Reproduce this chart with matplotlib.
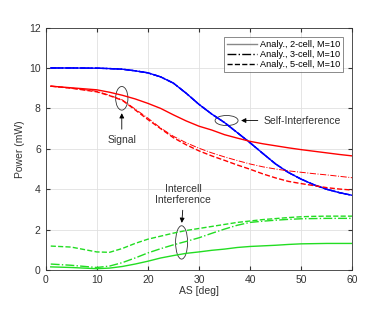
import matplotlib
matplotlib.use('Agg')
import matplotlib.pyplot as plt
from matplotlib.patches import Ellipse
from matplotlib.lines import Line2D
import numpy as np

plt.rcParams['font.family'] = ['Liberation Sans', 'DejaVu Sans']

# angular spread [deg]
AS = [1, 5, 10, 12.5, 15, 17.5, 20, 22.5, 25, 27.5, 30, 32.5, 35, 37.5, 40,
      42.5, 45, 47.5, 50, 52.5, 55, 57.5, 60]

# self-interference (same for all cell counts)
self_int = [10.0, 10.0, 9.99, 9.97, 9.94, 9.86, 9.76, 9.56, 9.25, 8.75, 8.2, 7.72, 7.3, 6.8,
            6.3, 5.77, 5.25, 4.83, 4.5, 4.22, 4.0, 3.83, 3.7]

# signal power
sig_2 = [9.1, 9.02, 8.92, 8.8, 8.65, 8.47, 8.25, 8.0, 7.68, 7.38, 7.12, 6.93, 6.7, 6.53,
         6.37, 6.25, 6.15, 6.05, 5.96, 5.88, 5.8, 5.72, 5.65]
sig_3 = [9.1, 9.0, 8.85, 8.65, 8.42, 7.97, 7.52, 7.03, 6.62, 6.3, 6.03, 5.8, 5.6, 5.42,
         5.25, 5.11, 5.0, 4.91, 4.84, 4.77, 4.71, 4.64, 4.57]
sig_5 = [9.1, 9.0, 8.82, 8.63, 8.4, 7.93, 7.45, 7.0, 6.55, 6.2, 5.9, 5.65, 5.43, 5.2,
         4.99, 4.76, 4.56, 4.39, 4.28, 4.18, 4.08, 4.01, 3.96]

# intercell interference
ici_2 = [0.16, 0.13, 0.07, 0.1, 0.18, 0.3, 0.44, 0.6, 0.72, 0.83, 0.9, 0.98, 1.04, 1.12,
         1.17, 1.2, 1.23, 1.27, 1.3, 1.31, 1.32, 1.32, 1.32]
ici_3 = [0.3, 0.24, 0.13, 0.2, 0.37, 0.6, 0.85, 1.06, 1.25, 1.42, 1.6, 1.82, 2.03, 2.22,
         2.36, 2.42, 2.47, 2.51, 2.54, 2.55, 2.56, 2.56, 2.56]
ici_5 = [1.19, 1.14, 0.9, 0.88, 1.07, 1.32, 1.53, 1.68, 1.83, 1.96, 2.06, 2.16, 2.26, 2.36,
         2.43, 2.5, 2.55, 2.6, 2.64, 2.66, 2.67, 2.67, 2.67]

legend_labels = ['Analy., 2-cell, M=10', 'Analy., 3-cell, M=10', 'Analy., 5-cell, M=10']
styles = ['-', '-.', '--']

fig = plt.figure(figsize=(3.74, 3.13), dpi=100)
ax = fig.add_axes([0.122, 0.137, 0.820, 0.775])

for s in styles:
    ax.plot(AS, self_int, color='blue', linestyle=s, lw=1)
for s, y in zip(styles, [sig_2, sig_3, sig_5]):
    ax.plot(AS, y, color='red', linestyle=s, lw=1 if s != '-.' else 0.7)
for s, y in zip(styles, [ici_2, ici_3, ici_5]):
    ax.plot(AS, y, color='#22dd22', linestyle=s, lw=1)

ax.set_xlim(0, 60)
ax.set_ylim(0, 12)
ax.set_xticks(np.arange(0, 61, 10))
ax.set_yticks(np.arange(0, 13, 2))
ax.grid(True, color='#e0e0e0', lw=0.6)
ax.set_axisbelow(True)
ax.tick_params(direction='in', labelsize=7.5, length=3, colors='#333333', top=True, right=True)
ax.set_xlabel('AS [deg]', fontsize=7.5, color='#333333', labelpad=1)
ax.set_ylabel('Power (mW)', fontsize=7.5, color='#333333', labelpad=3)
for sp in ax.spines.values():
    sp.set_linewidth(0.6)
    sp.set_color('#333333')

handles = [Line2D([], [], color='#888888', ls='-', lw=1),
           Line2D([], [], color='black', ls='-.', lw=1),
           Line2D([], [], color='black', ls='--', lw=1)]
leg = ax.legend(handles, legend_labels, loc='upper right', fontsize=6.6,
                frameon=True, fancybox=False, handlelength=3.3,
                borderpad=0.3, labelspacing=0.12, handletextpad=0.25,
                borderaxespad=1.05)
leg.get_frame().set_edgecolor('#555555')
leg.get_frame().set_linewidth(0.6)

ec = '#333333'
ax.add_patch(Ellipse((14.9, 8.5), 2.4, 1.17, fill=False, ec=ec, lw=0.6))
ax.add_patch(Ellipse((35.4, 7.4), 4.5, 0.5, fill=False, ec=ec, lw=0.6))
ax.add_patch(Ellipse((26.6, 1.37), 2.35, 1.65, fill=False, ec=ec, lw=0.6))

arrow = dict(arrowstyle='-|>', color='black', lw=0.6, mutation_scale=7)
ax.annotate('Signal', xy=(14.9, 7.9), xytext=(14.9, 6.45), fontsize=7.5,
            ha='center', va='center', color='#333333', arrowprops=arrow)
ax.annotate('Self-Interference', xy=(37.7, 7.4), xytext=(42.6, 7.4), fontsize=7.5,
            ha='left', va='center', color='#333333', arrowprops=arrow)
ax.annotate('Intercell\nInterference', xy=(26.6, 2.2), xytext=(26.9, 3.75), fontsize=7.5,
            ha='center', va='center', color='#333333', linespacing=1.1,
            arrowprops=dict(arrow, relpos=(0.5, 0.0)))

fig.savefig('out.png', dpi=100)
